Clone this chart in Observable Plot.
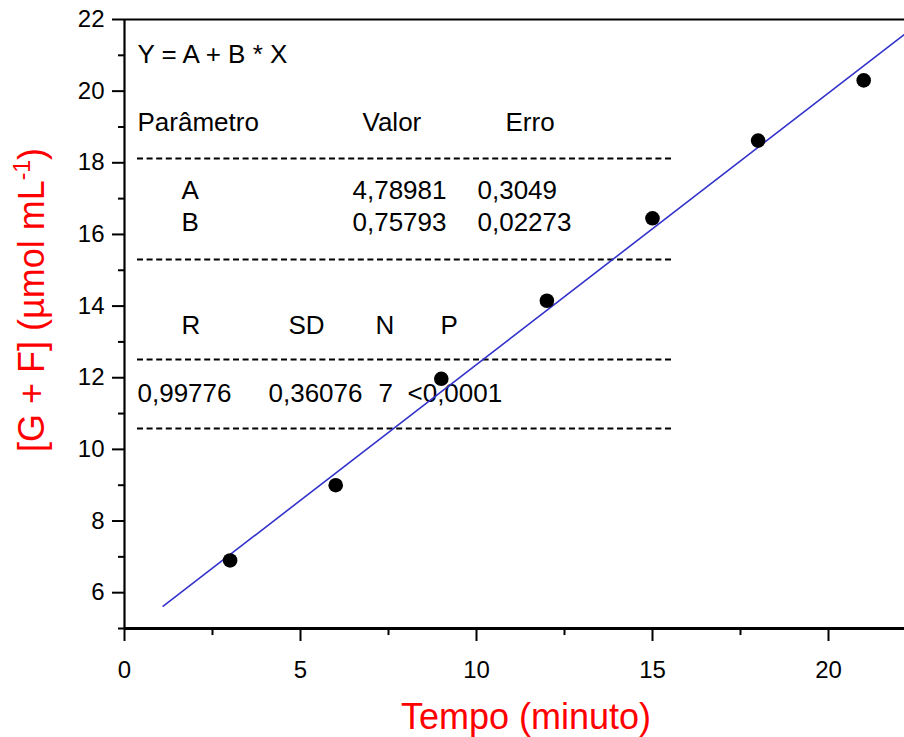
<!DOCTYPE html>
<html>
<head>
<meta charset="utf-8">
<script src="https://cdn.jsdelivr.net/npm/d3@7"></script>
<script src="https://cdn.jsdelivr.net/npm/@observablehq/plot@0.6"></script>
<style>
  html, body { margin: 0; padding: 0; background: #fff; }
  #chart { width: 904px; height: 737px; }
</style>
</head>
<body>
<div id="chart"></div>
<script>
// Measured [G + F] concentration over time
const minutes = [3, 6, 9, 12, 15, 18, 21];
const concentration = [6.9, 9.0, 11.97, 14.15, 16.45, 18.62, 20.3];

// Linear fit Y = A + B * X
const fitA = 4.78981;
const fitB = 0.75793;
const fitSpan = [1.1, 22.4];

// Axis ticks
const xTicks = [0, 5, 10, 15, 20];
const xMinorTicks = [2.5, 7.5, 12.5, 17.5];
const yTicks = [6, 8, 10, 12, 14, 16, 18, 20, 22];
const yMinorTicks = [5, 7, 9, 11, 13, 15, 17, 19, 21];

// Fit report text
const equation = "Y = A + B * X";
const paramHeader = ["Parâmetro", "Valor", "Erro"];
const paramRows = [["A", "4,78981", "0,3049"], ["B", "0,75793", "0,02273"]];
const statHeader = ["R", "SD", "N", "P"];
const statValues = ["0,99776", "0,36076", "7", "<0,0001"];

const xLabel = "Tempo (minuto)";
const yLabelMain = "[G + F] (\u00b5mol mL";
const yLabelSup = "-1";
const yLabelEnd = ")";

const font = "'Liberation Sans', Arial, Helvetica, sans-serif";
const W = 904, H = 737;
const mL = 124, mT = 19, mB = 109, mR = 0;
const yDomain = [5, 22];
const xMax = (W - mL - mR) / 35.2;

const points = minutes.map((t, i) => ({t, c: concentration[i]}));
const fitLine = fitSpan.map(t => ({t, c: fitA + fitB * t}));

// pixel -> data helpers for placing the report inside the frame
const yFromPx = py => yDomain[1] - (py - mT) * (yDomain[1] - yDomain[0]) / (H - mB - mT);
const xFromPx = px => (px - mL) * xMax / (W - mL - mR);

// Report layout: left edge / vertical centre of each entry, in px
const colsParam = [137, 362, 505];
const colsRow = [181, 352, 477];
const colsStat = [181, 288, 375, 440];
const colsStatVal = [137, 268, 378, 407];
const report = [
  {text: equation, px: 137, py: 54},
  ...paramHeader.map((s, i) => ({text: s, px: colsParam[i], py: 122})),
  ...paramRows[0].map((s, i) => ({text: s, px: colsRow[i], py: 190})),
  ...paramRows[1].map((s, i) => ({text: s, px: colsRow[i], py: 222})),
  ...statHeader.map((s, i) => ({text: s, px: colsStat[i], py: 325})),
  ...statValues.map((s, i) => ({text: s, px: colsStatVal[i], py: 393}))
];
const dashPx = [158, 259, 359, 428];

const svg = Plot.plot({
  width: W,
  height: H,
  marginLeft: mL,
  marginRight: mR,
  marginTop: mT,
  marginBottom: mB,
  style: {fontFamily: font, background: "white", overflow: "visible"},
  x: {domain: [0, xMax], axis: null},
  y: {domain: yDomain, axis: null},
  marks: [
    // dashed separators of the fit report
    Plot.ruleY(dashPx.map(yFromPx), {
      x1: xFromPx(137), x2: xFromPx(673),
      stroke: "#000", strokeWidth: 1.9, strokeDasharray: "6,3.6"
    }),
    Plot.text(report, {
      x: d => xFromPx(d.px),
      y: d => yFromPx(d.py),
      text: "text",
      textAnchor: "start",
      lineAnchor: "middle",
      fontSize: 26,
      fill: "#000"
    }),
    // fitted line
    Plot.line(fitLine, {x: "t", y: "c", stroke: "#3333cc", strokeWidth: 1.6, clip: true}),
    // measurements
    Plot.dot(points, {x: "t", y: "c", r: 7.3, fill: "#000", stroke: "none"}),
    // axes
    Plot.axisX({ticks: xTicks, tickSize: 13, tickPadding: 19, fontSize: 24, strokeWidth: 2, label: null, tickFormat: d3.format("d")}),
    Plot.axisX({ticks: xMinorTicks, tickSize: 7, strokeWidth: 2, text: null, label: null}),
    Plot.axisY({ticks: yTicks, tickSize: 12, tickPadding: 8, fontSize: 24, strokeWidth: 2, label: null, tickFormat: d3.format("d")}),
    Plot.axisY({ticks: yMinorTicks, tickSize: 6, strokeWidth: 2, text: null, label: null}),
    Plot.ruleX([0], {stroke: "#000", strokeWidth: 2.2}),
    Plot.ruleY([22], {stroke: "#000", strokeWidth: 2}),
    Plot.ruleY([5], {stroke: "#000", strokeWidth: 3.2})
  ]
});

// axis titles
const s = d3.select(svg);
s.append("text")
  .attr("x", 526)
  .attr("y", 729)
  .attr("text-anchor", "middle")
  .attr("fill", "red")
  .attr("font-size", 36)
  .attr("font-family", font)
  .text(xLabel);

const yl = s.append("text")
  .attr("transform", "translate(44,300) rotate(-90)")
  .attr("text-anchor", "middle")
  .attr("fill", "red")
  .attr("font-size", 36)
  .attr("font-family", font);
yl.append("tspan").text(yLabelMain);
yl.append("tspan").attr("font-size", 23).attr("dy", -14).text(yLabelSup);
yl.append("tspan").attr("dy", 14).text(yLabelEnd);

document.getElementById("chart").appendChild(svg);
</script>
</body>
</html>
